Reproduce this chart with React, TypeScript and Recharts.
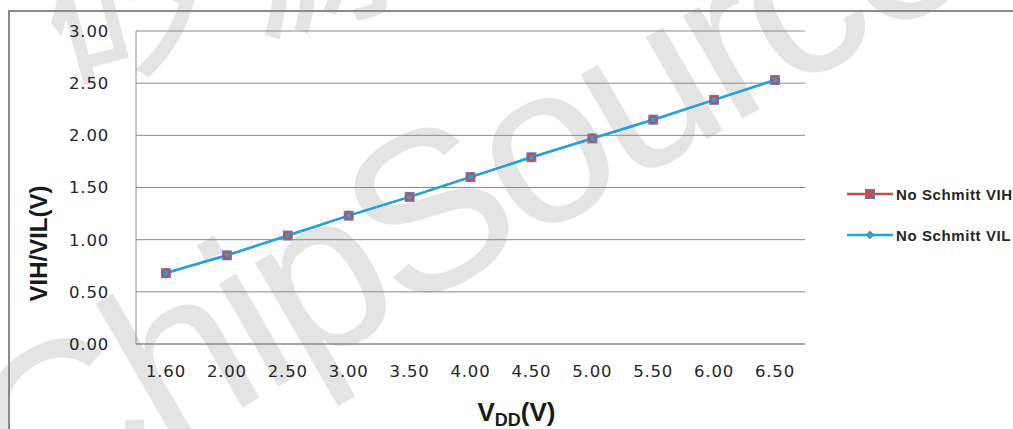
import React from 'react';
import { LineChart, Line, XAxis, YAxis, CartesianGrid, Legend } from 'recharts';

const categories = ['1.60', '2.00', '2.50', '3.00', '3.50', '4.00', '4.50', '5.00', '5.50', '6.00', '6.50'];
const vihValues = [0.68, 0.85, 1.04, 1.23, 1.41, 1.6, 1.79, 1.97, 2.15, 2.34, 2.53];
const vilValues = [0.68, 0.85, 1.04, 1.23, 1.41, 1.6, 1.79, 1.97, 2.15, 2.34, 2.53];
const yTicks = [0, 0.5, 1, 1.5, 2, 2.5, 3];

const seriesNames = ['No Schmitt VIH', 'No Schmitt VIL'];
const seriesColors = ['#C0504D', '#1CA6E0'];

const data = categories.map((vdd, i) => ({ vdd, vih: vihValues[i], vil: vilValues[i] }));

const GRID = '#8a8a8a';
const TICK_FONT = "'DejaVu Sans', Verdana, sans-serif";
const LABEL_FONT = "'Liberation Sans', Arial, sans-serif";

const VihDot = (props: any) => {
  const { cx, cy, index } = props;
  if (cx == null || cy == null) return <g key={`vih-${index}`} />;
  return (
    <g key={`vih-${index}`}>
      <rect x={cx - 5} y={cy - 5} width={10} height={10} fill="#6582C4" />
      <circle cx={cx} cy={cy} r={3.6} fill="none" stroke="#C0504D" strokeWidth={2} />
    </g>
  );
};

const VilDot = (props: any) => {
  const { cx, cy, index } = props;
  if (cx == null || cy == null) return <g key={`vil-${index}`} />;
  return <circle key={`vil-${index}`} cx={cx} cy={cy} r={2} fill="#1CA6E0" />;
};

const renderLegend = () => (
  <div>
    {seriesNames.map((name, i) => (
      <div key={name} style={{ display: 'flex', alignItems: 'center', height: 22, marginBottom: i === 0 ? 19 : 0 }}>
        <svg width={50} height={14} style={{ overflow: 'visible' }}>
          <line x1={2} y1={7} x2={48} y2={7} stroke={seriesColors[i]} strokeWidth={2.5} />
          {i === 0 ? (
            <rect x={20.5} y={2.5} width={9} height={9} fill="#C0504D" stroke="#4F81BD" strokeWidth={1} />
          ) : (
            <polygon points="25,3 29,7 25,11 21,7" fill="#1CA6E0" stroke="#C0504D" strokeWidth={0.6} />
          )}
        </svg>
        <span
          style={{
            fontFamily: "'Liberation Sans', Arial, sans-serif",
            fontWeight: 'bold',
            fontSize: 15,
            letterSpacing: 0.6,
            color: '#262626',
            whiteSpace: 'nowrap',
            marginLeft: 1
          }}
        >
          {name}
        </span>
      </div>
    ))}
  </div>
);

const XLabel = (props: any) => {
  const { viewBox } = props;
  const x = viewBox.x + viewBox.width / 2 + 7;
  const y = viewBox.y + 77;
  return (
    <text x={x} y={y} fontFamily={LABEL_FONT} fontWeight="bold" fontSize={26} fill="#1a1a1a">
      V
      <tspan fontSize={18} dy={5}>DD</tspan>
      <tspan dy={-5}>(V)</tspan>
    </text>
  );
};

const YLabel = (props: any) => {
  const { viewBox } = props;
  const x = viewBox.x + 47;
  const y = viewBox.y + viewBox.height / 2 + 56;
  return (
    <text
      x={x}
      y={y}
      transform={`rotate(-90, ${x}, ${y})`}
      textAnchor="middle"
      fontFamily={LABEL_FONT}
      fontWeight="bold"
      fontSize={24}
      fill="#1a1a1a"
    >
      VIH/VIL(V)
    </text>
  );
};

// faint rotated watermark behind the plot
const Watermark = () => (
  <svg width={1013} height={429} style={{ position: 'absolute', left: 0, top: 0 }}>
    <text
      x={30}
      y={530}
      transform="rotate(-30, 30, 530)"
      fontFamily="'Liberation Sans', Arial, sans-serif"
      fontSize={225}
      letterSpacing={-8}
      fill="#e4e4e4"
    >
      ChipSource
    </text>
    <text
      x={60}
      y={85}
      transform="rotate(-15, 60, 85)"
      fontFamily="'Noto Sans CJK SC', sans-serif"
      fontSize={190}
      fill="#e4e4e4"
      letterSpacing={10}
    >
      矽源特
    </text>
  </svg>
);

export default function App() {
  return (
    <div style={{ position: 'absolute', left: 0, top: 0, width: 1013, height: 429, background: '#fff', overflow: 'hidden' }}>
      <Watermark />
      <div
        style={{
          position: 'absolute',
          left: 8,
          top: 10,
          width: 1013,
          height: 429,
          borderTop: `2px solid ${GRID}`,
          borderLeft: `2px solid ${GRID}`
        }}
      />
      <div style={{ position: 'absolute', left: 0, top: 0 }}>
        <LineChart width={1013} height={429} data={data} margin={{ top: 31, right: 208, bottom: 0, left: 0 }}>
          <CartesianGrid vertical={false} stroke={GRID} strokeWidth={1} />
          <XAxis
            dataKey="vdd"
            height={85}
            padding={{ left: 30, right: 30 }}
            axisLine={{ stroke: GRID }}
            tickLine={false}
            tickSize={0}
            tickMargin={21}
            interval={0}
            tick={{ fontFamily: TICK_FONT, fontSize: 16.5, fill: '#262626', letterSpacing: 0.8 }}
            label={{ content: XLabel }}
          />
          <YAxis
            width={136}
            domain={[0, 3]}
            ticks={yTicks}
            interval={0}
            tickFormatter={(v: number) => v.toFixed(2)}
            axisLine={{ stroke: GRID }}
            tickLine={false}
            tickSize={0}
            tickMargin={27}
            tick={{ fontFamily: TICK_FONT, fontSize: 16.5, fill: '#262626', letterSpacing: 0.8 }}
            label={{ content: YLabel }}
          />
          <Legend
            layout="vertical"
            align="center"
            verticalAlign="middle"
            content={renderLegend}
            wrapperStyle={{ left: 845, top: 183, width: 168 }}
          />
          <Line
            type="linear"
            dataKey="vih"
            name={seriesNames[0]}
            stroke={seriesColors[0]}
            strokeWidth={2}
            dot={VihDot}
            isAnimationActive={false}
          />
          <Line
            type="linear"
            dataKey="vil"
            name={seriesNames[1]}
            stroke={seriesColors[1]}
            strokeWidth={2.5}
            dot={VilDot}
            isAnimationActive={false}
          />
        </LineChart>
      </div>
    </div>
  );
}
